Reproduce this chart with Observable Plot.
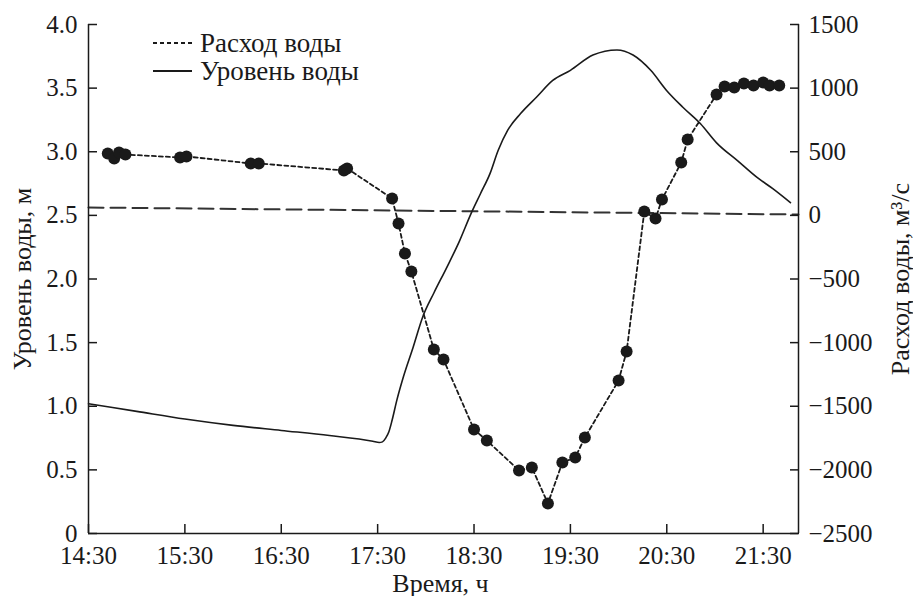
<!DOCTYPE html>
<html><head><meta charset="utf-8">
<script src="https://cdn.jsdelivr.net/npm/d3@7"></script>
<script src="https://cdn.jsdelivr.net/npm/@observablehq/plot@0.6"></script>
<style>
body{margin:0;background:#fff}
#chart{width:913px;height:596px}
</style>
</head><body><div id="chart"></div>
<script>
// Water level (left axis, m)
const levelTimes = ["14:30","15:00","15:30","16:00","16:30","17:00","17:27","17:31","17:33","17:35","17:37","17:39","17:42","17:46","17:52","17:58","18:05","18:13","18:21","18:28","18:34","18:40","18:45","18:51","18:59","19:09","19:19","19:30","19:44","19:59","20:09","20:20","20:30","20:40","20:51","21:01","21:14","21:26","21:36","21:47"];
const levelValues = [1.02,0.96,0.90,0.85,0.81,0.77,0.725,0.715,0.72,0.75,0.80,0.89,1.05,1.23,1.46,1.70,1.89,2.09,2.30,2.51,2.67,2.83,3.01,3.17,3.30,3.43,3.56,3.64,3.76,3.80,3.76,3.64,3.48,3.35,3.22,3.07,2.93,2.80,2.71,2.60];

// Water discharge (right axis, m3/s)
const flowTimes = ["14:42","14:46","14:49","14:53","15:27","15:31","16:11","16:16","17:09","17:11","17:39","17:43","17:47","17:51","18:05","18:11","18:30","18:38","18:58","19:06","19:16","19:25","19:33","19:39","20:00","20:05","20:16","20:23","20:27","20:39","20:43","21:01","21:06","21:12","21:18","21:24","21:30","21:34","21:40"];
const flowValues = [486,447,494,478,455,463,408,408,353,368,133,-64,-300,-441,-1054,-1133,-1683,-1769,-2005,-1981,-2264,-1942,-1903,-1746,-1298,-1070,30,-25,125,416,596,950,1013,1005,1036,1021,1044,1021,1021];

// Zero-discharge reference line (long dashes)
const refTimes = ["14:30","21:52"];
const refValues = [62, 7];

const xTicks = ["14:30","15:30","16:30","17:30","18:30","19:30","20:30","21:30"];
const xDomain = ["14:30","21:52"];
const leftTicks = [0,0.5,1,1.5,2,2.5,3,3.5,4];
const rightTicks = [-2500,-2000,-1500,-1000,-500,0,500,1000,1500];
const rightMin = -2500, rightSpan = 4000, leftSpan = 4;

const legendLabels = ["Расход воды","Уровень воды"];
const titleLeft = "Уровень воды, м";
const titleRight = "Расход воды, м\u00B3/с";
const titleBottom = "Время, ч";

const t = s => { const [h, m] = s.split(":").map(Number); return new Date(2000, 0, 1, h, m); };
const q2y = q => (q - rightMin) / rightSpan * leftSpan;
const y2q = y => Math.round(y / leftSpan * rightSpan + rightMin);
const minus = s => String(s).replace("-", "\u2212");

const level = levelTimes.map((d, i) => ({time: t(d), v: levelValues[i]}));
const flow = flowTimes.map((d, i) => ({time: t(d), v: q2y(flowValues[i])}));
const ref = refTimes.map((d, i) => ({time: t(d), v: q2y(refValues[i])}));

const ink = "#1a1a1a";
const FS = 25, FT = 26, FL = 27;

const svg = Plot.plot({
  width: 913, height: 596,
  marginLeft: 88, marginRight: 115, marginTop: 24, marginBottom: 63,
  style: {fontFamily: '"Liberation Serif", "DejaVu Serif", serif', fontSize: FS + "px", color: ink, background: "#fff", overflow: "visible"},
  x: {type: "time", domain: xDomain.map(t)},
  y: {domain: [0, 4]},
  marks: [
    Plot.line(ref, {x: "time", y: "v", stroke: "#333", strokeWidth: 2, strokeDasharray: "15,7"}),
    Plot.line(level, {x: "time", y: "v", stroke: ink, strokeWidth: 1.6, curve: "monotone-x"}),
    Plot.line(flow, {x: "time", y: "v", stroke: ink, strokeWidth: 1.8, strokeDasharray: "4,3"}),
    Plot.dot(flow, {x: "time", y: "v", r: 6, fill: ink, stroke: "none"}),
    Plot.ruleY([0], {stroke: ink, strokeWidth: 1.5}),
    Plot.ruleX([t(xDomain[0])], {stroke: ink, strokeWidth: 1.5}),
    Plot.ruleX([t(xDomain[1])], {stroke: ink, strokeWidth: 1.5}),
    Plot.axisX(xTicks.map(t), {tickSize: -9, tickFormat: () => "", label: null, stroke: ink, strokeWidth: 1.5}),
    Plot.axisX(xTicks.map(t), {tickSize: 0, tickPadding: 13, tickFormat: d3.timeFormat("%H:%M"), label: null, fill: ink}),
    Plot.axisY(leftTicks, {anchor: "left", tickSize: -9, tickFormat: () => "", label: null, stroke: ink, strokeWidth: 1.5}),
    Plot.axisY(leftTicks, {anchor: "left", tickSize: 0, tickPadding: 11, tickFormat: d => d === 0 ? "0" : d.toFixed(1), label: null, fill: ink}),
    Plot.axisY(rightTicks.map(q2y), {anchor: "right", tickSize: -9, tickFormat: () => "", label: null, stroke: ink, strokeWidth: 1.5}),
    Plot.axisY(rightTicks.map(q2y), {anchor: "right", tickSize: 0, tickPadding: 10, tickFormat: d => minus(y2q(d)), label: null, fill: ink}),
    Plot.text([titleLeft], {frameAnchor: "left", dx: -66, rotate: -90, text: d => d, textAnchor: "middle", lineAnchor: "middle", fill: ink, fontSize: FT}),
    Plot.text([titleRight], {frameAnchor: "right", dx: 102, rotate: -90, text: d => d, textAnchor: "middle", lineAnchor: "middle", fill: ink, fontSize: FT}),
    Plot.text([titleBottom], {frameAnchor: "bottom", dx: -3, dy: 50, text: d => d, textAnchor: "middle", lineAnchor: "middle", fill: ink, fontSize: FT})
  ]
});

// Legend inside the plot (top-left)
const lg = d3.select(svg).append("g").attr("font-size", FL).attr("text-anchor", "start");
const rows = [{label: legendLabels[0], dash: "4,3"}, {label: legendLabels[1], dash: null}];
rows.forEach((r, i) => {
  const y = 43 + i * 28;
  lg.append("line").attr("x1", 153).attr("x2", 192).attr("y1", y).attr("y2", y)
    .attr("stroke", ink).attr("stroke-width", 1.8).attr("stroke-dasharray", r.dash);
  lg.append("text").attr("x", 200).attr("y", y).attr("dy", "0.35em").attr("fill", ink).text(r.label);
});

document.getElementById("chart").appendChild(svg);
</script>
</body></html>
